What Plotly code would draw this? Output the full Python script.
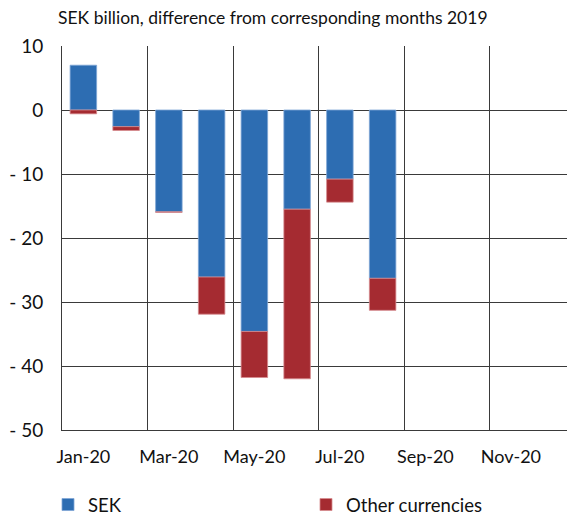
import plotly.graph_objects as go

months = ["Jan-20", "Feb-20", "Mar-20", "Apr-20", "May-20", "Jun-20",
          "Jul-20", "Aug-20", "Sep-20", "Oct-20", "Nov-20", "Dec-20"]
sek = [7.0, -2.6, -15.9, -26.1, -34.6, -15.5, -10.8, -26.3, None, None, None, None]
other = [-0.6, -0.6, -0.1, -5.8, -7.2, -26.5, -3.6, -5.0, None, None, None, None]
ytick_vals = [10, 0, -10, -20, -30, -40, -50]
ytick_text = ["10", "0", "- 10", "- 20", "- 30", "- 40", "- 50"]
title_text = "SEK billion, difference from corresponding months 2019"

xpos = list(range(len(months)))
FONT = "Lato"
GRID = "#3a3a3a"
OFF = 8  # page body margin offset
L, T = 62 - OFF, 46 - OFF
R = 575 - (575 - OFF)
B = 517 - (430 - OFF)
PW = 575 - L - R
PH = 517 - T - B

fig = go.Figure()
fig.add_trace(go.Bar(x=xpos, y=sek, name="SEK", legend="legend",
                     marker=dict(color="#2D6DB2", line=dict(color="#7FA6D6", width=0.8))))
fig.add_trace(go.Bar(x=xpos, y=other, name="Other currencies", legend="legend2",
                     marker=dict(color="#A52B31", line=dict(color="#D58A8E", width=0.8))))

leg_common = dict(orientation="h", xanchor="left", y=-(505 - 430) / PH, yanchor="middle",
                  font=dict(family=FONT, size=18.5, color="#111111"),
                  bgcolor="rgba(0,0,0,0)")
fig.update_layout(
    width=575, height=517,
    barmode="relative", bargap=0.38,
    plot_bgcolor="white", paper_bgcolor="white",
    margin=dict(l=L, r=R, t=T, b=B, autoexpand=False),
    font=dict(family=FONT, size=16, color="#111111"),
    title=dict(text=title_text, x=(58 - OFF) / 575, xanchor="left",
               y=1 - (18 - OFF) / 517, yanchor="middle",
               pad=dict(l=0, r=0, t=0, b=0),
               font=dict(family=FONT, size=17.5, color="#111111")),
    showlegend=True,
    legend=dict(x=(48 - 62) / PW, **leg_common),
    legend2=dict(x=(306 - 62) / PW, **leg_common),
)
fig.update_xaxes(
    range=[-0.5, len(months) - 0.5], automargin=False,
    tickmode="array", tickvals=xpos[::2], ticktext=months[::2],
    showgrid=False, ticks="", ticklen=0, ticklabelstandoff=10,
    minor=dict(tick0=-0.5, dtick=2, showgrid=True, gridcolor=GRID, gridwidth=1, ticks=""),
    showline=True, linecolor=GRID, linewidth=1,
    tickfont=dict(family=FONT, size=18, color="#111111"),
    zeroline=False,
)
fig.update_yaxes(
    range=[-50, 10], automargin=False,
    tickmode="array", tickvals=ytick_vals, ticktext=ytick_text,
    showgrid=True, gridcolor=GRID, gridwidth=1,
    zeroline=True, zerolinecolor=GRID, zerolinewidth=1,
    showline=True, linecolor=GRID, linewidth=1,
    ticks="", ticklabelstandoff=14,
    tickfont=dict(family=FONT, size=19, color="#111111"),
)

fig.write_html("out.html")
